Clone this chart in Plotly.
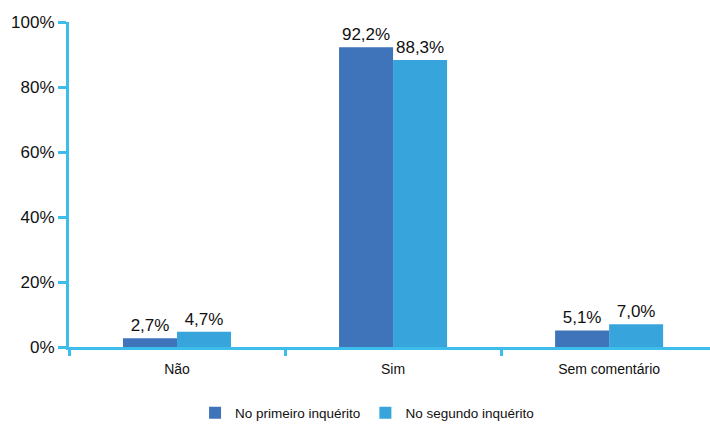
import plotly.graph_objects as go

categories = ["Não", "Sim", "Sem comentário"]
first_survey = [2.7, 92.2, 5.1]
second_survey = [4.7, 88.3, 7.0]
series_names = ["No primeiro inquérito", "No segundo inquérito"]
y_ticks = [0, 20, 40, 60, 80, 100]

AXIS = "#3DBDEB"
DARK = "#3F73BA"
LIGHT = "#38A4DC"
FONT = "Liberation Sans, Arial, sans-serif"

x_pos = list(range(len(categories)))

fig = go.Figure()
for name, vals, col in [(series_names[0], first_survey, DARK),
                        (series_names[1], second_survey, LIGHT)]:
    fig.add_trace(go.Bar(
        x=x_pos, y=vals, name=name, marker_color=col, marker_line_width=0,
        texttemplate="%{y:.1f}%", textposition="outside",
        textfont=dict(size=17, color="#111111", family=FONT),
        cliponaxis=False,
    ))

# invisible trace carrying the between-category divider ticks
fig.add_trace(go.Scatter(x=[-0.5, 1.5], y=[0, 0], xaxis="x2", mode="none",
                         showlegend=False, hoverinfo="skip"))

fig.update_layout(
    width=710, height=424,
    margin=dict(l=69, r=0, t=22, b=77, autoexpand=False),
    paper_bgcolor="white", plot_bgcolor="white",
    separators=",.",
    barmode="group", bargap=0.5, bargroupgap=0,
    font=dict(family=FONT, color="#111111"),
    xaxis=dict(
        range=[-0.5, 2.467], tickmode="array", tickvals=x_pos, ticktext=categories,
        showline=True, linecolor=AXIS, linewidth=3, ticks="", showgrid=False,
        zeroline=False, tickfont=dict(size=14, family=FONT, color="#111111"),
        ticklabelstandoff=7,
    ),
    xaxis2=dict(
        overlaying="x", anchor="y", side="bottom", range=[-0.5, 2.467],
        tickmode="array", tickvals=[-0.5, 0.5, 1.5], ticks="outside",
        ticklen=8, tickwidth=3, tickcolor=AXIS, showticklabels=False,
        showgrid=False, zeroline=False, showline=False,
    ),
    yaxis=dict(
        range=[0, 100], tickmode="array", tickvals=y_ticks,
        ticktext=[f"{v}%" for v in y_ticks],
        showline=True, linecolor=AXIS, linewidth=3, ticks="outside",
        ticklen=8, tickwidth=3, tickcolor=AXIS, showgrid=False, zeroline=False,
        tickfont=dict(size=17, family=FONT, color="#111111"),
    ),
    legend=dict(
        orientation="h", x=0.465, xanchor="center", y=-0.203, yanchor="middle",
        font=dict(size=13.5, family=FONT, color="#111111"),
        itemwidth=30,
    ),
)

fig.write_html("out.html")
